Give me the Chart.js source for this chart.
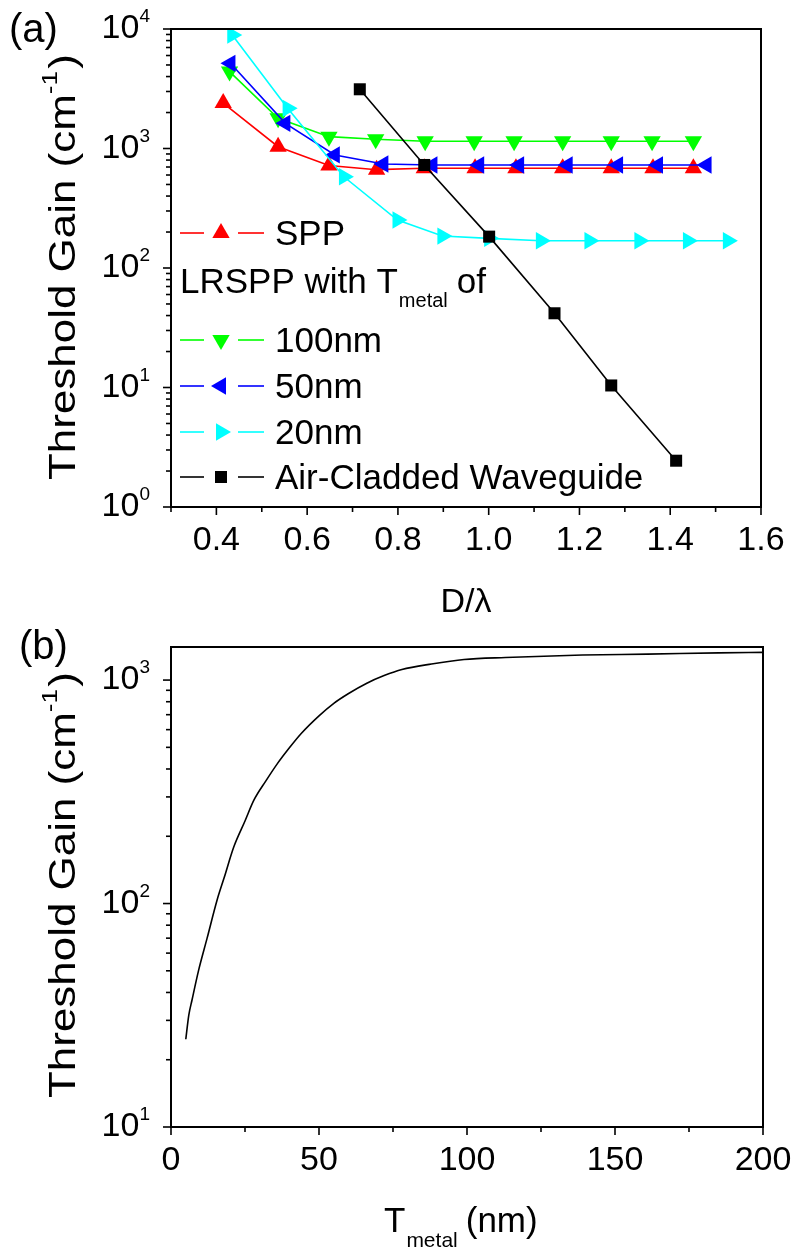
<!DOCTYPE html>
<html>
<head>
<meta charset="utf-8">
<script src="https://cdn.jsdelivr.net/npm/chart.js@4.4.1/dist/chart.umd.min.js"></script>
<style>
  html, body { margin: 0; padding: 0; background: #fff; }
  #wrap { position: relative; width: 799px; height: 1253px; overflow: hidden; }
  canvas { position: absolute; left: 0; }
  #chartA { top: 0; }
  #chartB { top: 620px; }
</style>
</head>
<body>
<div id="wrap">
  <canvas id="chartA" width="799" height="620"></canvas>
  <canvas id="chartB" width="799" height="633"></canvas>
</div>
<script>
// ---- panel (a): threshold gain vs D/lambda ----
const sppX = [0.415, 0.536, 0.648, 0.753, 0.858, 0.970, 1.060, 1.163, 1.270, 1.362, 1.451];
const sppY = [2400, 1035, 720, 665, 683, 683, 683, 683, 683, 683, 683];
const lr100X = [0.429, 0.536, 0.648, 0.751, 0.860, 0.968, 1.056, 1.163, 1.270, 1.360, 1.451];
const lr100Y = [4400, 1790, 1256, 1194, 1150, 1150, 1150, 1150, 1150, 1150, 1150];
const lr50X = [0.431, 0.552, 0.661, 0.768, 0.876, 0.979, 1.067, 1.174, 1.285, 1.373, 1.480];
const lr50Y = [5165, 1625, 883, 742, 728, 728, 728, 728, 728, 728, 728];
const lr20X = [0.435, 0.557, 0.681, 0.799, 0.898, 1.001, 1.115, 1.222, 1.332, 1.439, 1.527];
const lr20Y = [8900, 2170, 580, 252, 185, 177, 169, 169, 169, 169, 169];
const airX = [0.716, 0.858, 1.001, 1.145, 1.270, 1.413];
const airY = [3130, 728, 183, 41.8, 10.4, 2.44];

const xTicksA = [0.4, 0.6, 0.8, 1.0, 1.2, 1.4, 1.6];
const xTickLabelsA = ['0.4', '0.6', '0.8', '1.0', '1.2', '1.4', '1.6'];
const xMinorA = [0.3, 0.5, 0.7, 0.9, 1.1, 1.3, 1.5];
const yExpA = [0, 1, 2, 3, 4];

// ---- panel (b): threshold gain vs metal thickness ----
const tMetal = [5, 6, 7.1, 9.3, 12.2, 15.6, 18, 21.2, 25, 28, 32, 36, 40, 44, 50, 55, 60, 66, 72, 78, 88, 99, 113, 139, 161, 185, 200];
const gainB = [24.7, 31.6, 37, 50.1, 70, 104, 131, 179, 234, 290, 353, 424, 498, 577, 692, 787, 871, 966, 1047, 1115, 1180, 1236, 1262, 1294, 1306, 1324, 1330];

const xTicksB = [0, 50, 100, 150, 200];
const xTickLabelsB = ['0', '50', '100', '150', '200'];
const xMinorB = [25, 75, 125, 175];
const yExpB = [1, 2, 3];

const FONT = '"Liberation Sans", Arial, sans-serif';

function pts(xs, ys) {
  return xs.map((x, i) => ({ x: x, y: ys[i] }));
}

function logMinors(lo, hi) {
  const out = [];
  for (let e = Math.floor(Math.log10(lo)); e <= Math.ceil(Math.log10(hi)); e++) {
    for (let m = 2; m <= 9; m++) {
      const v = m * Math.pow(10, e);
      if (v > lo && v < hi) out.push(v);
    }
  }
  return out;
}

function setFont(ctx, size) {
  ctx.font = size + 'px ' + FONT;
}

function drawMarker(ctx, style, rot, r, x, y, color) {
  ctx.fillStyle = color;
  ctx.beginPath();
  if (style === 'rect') {
    const s = Math.SQRT1_2 * r;
    ctx.rect(x - s, y - s, 2 * s, 2 * s);
  } else {
    let rad = rot * Math.PI / 180;
    for (let i = 0; i < 3; i++) {
      const px = x + Math.sin(rad) * r, py = y - Math.cos(rad) * r;
      if (i) ctx.lineTo(px, py); else ctx.moveTo(px, py);
      rad += 2 * Math.PI / 3;
    }
    ctx.closePath();
  }
  ctx.fill();
}

function seg(ctx, x1, y1, x2, y2) {
  ctx.beginPath();
  ctx.moveTo(x1, y1);
  ctx.lineTo(x2, y2);
  ctx.stroke();
}

// frame, ticks, tick labels, axis titles
function axesPlugin(cfg) {
  return {
    id: 'axes_' + cfg.name,
    afterDraw(chart) {
      const ctx = chart.ctx, a = chart.chartArea;
      const xs = chart.scales.x, ys = chart.scales.y;
      ctx.save();
      ctx.strokeStyle = '#000';
      ctx.fillStyle = '#000';
      ctx.lineWidth = 2;
      ctx.strokeRect(a.left, a.top, a.right - a.left, a.bottom - a.top);

      ctx.lineWidth = 1.6;
      cfg.xMajor.forEach(v => {
        const px = xs.getPixelForValue(v);
        seg(ctx, px, a.bottom, px, a.bottom + 8);
      });
      cfg.xMinor.forEach(v => {
        const px = xs.getPixelForValue(v);
        seg(ctx, px, a.bottom, px, a.bottom + 5);
      });
      cfg.yExp.forEach(e => {
        const py = ys.getPixelForValue(Math.pow(10, e));
        seg(ctx, a.left - 8, py, a.left, py);
      });
      logMinors(ys.min, ys.max).forEach(v => {
        const py = ys.getPixelForValue(v);
        seg(ctx, a.left - 5, py, a.left, py);
      });

      // x tick labels
      setFont(ctx, 34);
      ctx.textAlign = 'center';
      ctx.textBaseline = 'middle';
      cfg.xMajor.forEach((v, i) => {
        ctx.fillText(cfg.xLabels[i], xs.getPixelForValue(v), a.bottom + 34);
      });

      // y tick labels as powers of ten
      cfg.yExp.forEach(e => {
        const py = ys.getPixelForValue(Math.pow(10, e));
        const xr = a.left - 21;
        setFont(ctx, 19);
        ctx.textAlign = 'right';
        ctx.textBaseline = 'middle';
        const ws = ctx.measureText(String(e)).width;
        ctx.fillText(String(e), xr, py - 12);
        setFont(ctx, 34);
        ctx.fillText('10', xr - ws, py);
      });

      // y title, stretched along its length like the original
      ctx.save();
      ctx.translate(65, cfg.yTitleY);
      ctx.rotate(-Math.PI / 2);
      ctx.textAlign = 'left';
      ctx.textBaseline = 'middle';
      setFont(ctx, 37);
      const main = 'Threshold Gain (cm';
      const wMain = ctx.measureText(main).width;
      const wClose = ctx.measureText(')').width;
      setFont(ctx, 22);
      const wSup = ctx.measureText('-1').width;
      const total = wMain + wSup + wClose + 2;
      const sx = 426 / total;
      ctx.scale(sx, 1);
      const x0 = -total / 2;
      setFont(ctx, 37);
      ctx.fillText(main, x0, 0);
      setFont(ctx, 22);
      ctx.fillText('-1', x0 + wMain, -14);
      setFont(ctx, 37);
      ctx.fillText(')', x0 + wMain + wSup + 2, 0);
      ctx.restore();

      // panel label
      setFont(ctx, 40);
      ctx.textAlign = 'left';
      ctx.textBaseline = 'alphabetic';
      ctx.fillText(cfg.panel, cfg.panelX, cfg.panelY);

      cfg.xTitle(ctx, a);
      ctx.restore();
    }
  };
}

// legend for panel (a), styles read from the datasets
const legendRows = [
  { ds: 0, text: 'SPP', y: 233 },
  { header: true, y: 283 },
  { ds: 1, text: '100nm', y: 340 },
  { ds: 2, text: '50nm', y: 386 },
  { ds: 3, text: '20nm', y: 432 },
  { ds: 4, text: 'Air-Cladded Waveguide', y: 477 }
];

const legendPlugin = {
  id: 'legendA',
  afterDraw(chart) {
    const ctx = chart.ctx;
    ctx.save();
    legendRows.forEach(row => {
      ctx.fillStyle = '#000';
      ctx.textAlign = 'left';
      ctx.textBaseline = 'alphabetic';
      if (row.header) {
        setFont(ctx, 35);
        const t1 = 'LRSPP with T';
        ctx.fillText(t1, 180, row.y + 10);
        let x = 180 + ctx.measureText(t1).width;
        setFont(ctx, 20);
        ctx.fillText('metal', x + 1, row.y + 24);
        x += ctx.measureText('metal').width + 10;
        setFont(ctx, 35);
        ctx.fillText('of', x, row.y + 10);
        return;
      }
      const d = chart.data.datasets[row.ds];
      ctx.strokeStyle = d.borderColor;
      ctx.lineWidth = 1.6;
      seg(ctx, 180, row.y, 204, row.y);
      seg(ctx, 238, row.y, 264, row.y);
      const r = d.pointStyle === 'rect' ? 8.5 : 10;
      drawMarker(ctx, d.pointStyle, d.pointRotation || 0, r, 221, row.y, d.backgroundColor);
      ctx.fillStyle = '#000';
      setFont(ctx, 35);
      ctx.fillText(row.text, 275, row.y + 12);
    });
    ctx.restore();
  }
};

function series(label, xs, ys, color, style, rot, order) {
  return {
    label: label,
    data: pts(xs, ys),
    borderColor: color,
    backgroundColor: color,
    borderWidth: 1.6,
    pointStyle: style,
    pointRotation: rot,
    pointRadius: style === 'rect' ? 8.5 : 10,
    pointBorderWidth: 0,
    pointBackgroundColor: color,
    order: order
  };
}

function baseScales(xmin, xmax, ymin, ymax, yWidth, xHeight) {
  return {
    x: {
      type: 'linear', min: xmin, max: xmax,
      grid: { display: false }, border: { display: false },
      ticks: { display: false },
      afterFit: s => { s.height = xHeight; }
    },
    y: {
      type: 'logarithmic', min: ymin, max: ymax,
      grid: { display: false }, border: { display: false },
      ticks: { display: false },
      afterFit: s => { s.width = yWidth; }
    }
  };
}

new Chart(document.getElementById('chartA'), {
  type: 'line',
  data: {
    datasets: [
      series('SPP', sppX, sppY, '#ff0000', 'triangle', 0, 4),
      series('100nm', lr100X, lr100Y, '#00ff00', 'triangle', 180, 3),
      series('50nm', lr50X, lr50Y, '#0000ff', 'triangle', -90, 2),
      series('20nm', lr20X, lr20Y, '#00ffff', 'triangle', 90, 1),
      series('Air-Cladded Waveguide', airX, airY, '#000000', 'rect', 0, 0)
    ]
  },
  options: {
    responsive: false,
    animation: false,
    layout: { padding: { top: 29, right: 38, bottom: 0, left: 0 } },
    scales: baseScales(0.3, 1.6, 1, 10000, 171, 113),
    plugins: { legend: { display: false }, tooltip: { enabled: false } }
  },
  plugins: [axesPlugin({
    name: 'a', xMajor: xTicksA, xMinor: xMinorA, xLabels: xTickLabelsA, yExp: yExpA,
    yTitleY: 267, panel: '(a)', panelX: 9, panelY: 42,
    xTitle: (ctx, a) => {
      setFont(ctx, 34);
      ctx.textAlign = 'center';
      ctx.textBaseline = 'alphabetic';
      ctx.fillText('D/\u03bb', (a.left + a.right) / 2, 612);
    }
  }), legendPlugin]
});

new Chart(document.getElementById('chartB'), {
  type: 'line',
  data: {
    datasets: [{
      label: 'Threshold Gain',
      data: pts(tMetal, gainB),
      borderColor: '#000',
      borderWidth: 1.6,
      pointRadius: 0,
      cubicInterpolationMode: 'monotone',
      fill: false
    }]
  },
  options: {
    responsive: false,
    animation: false,
    layout: { padding: { top: 27, right: 36, bottom: 0, left: 0 } },
    scales: baseScales(0, 200, 10, 1406, 171, 126),
    plugins: { legend: { display: false }, tooltip: { enabled: false } }
  },
  plugins: [axesPlugin({
    name: 'b', xMajor: xTicksB, xMinor: xMinorB, xLabels: xTickLabelsB, yExp: yExpB,
    yTitleY: 265, panel: '(b)', panelX: 19, panelY: 39,
    xTitle: (ctx, a) => {
      ctx.textAlign = 'left';
      ctx.textBaseline = 'alphabetic';
      setFont(ctx, 35);
      let x = 384;
      ctx.fillText('T', x, 612);
      x += ctx.measureText('T').width + 1;
      setFont(ctx, 21);
      ctx.fillText('metal', x, 627);
      x += ctx.measureText('metal').width + 8;
      setFont(ctx, 35);
      ctx.fillText('(nm)', x, 612);
    }
  })]
});
</script>
</body>
</html>
